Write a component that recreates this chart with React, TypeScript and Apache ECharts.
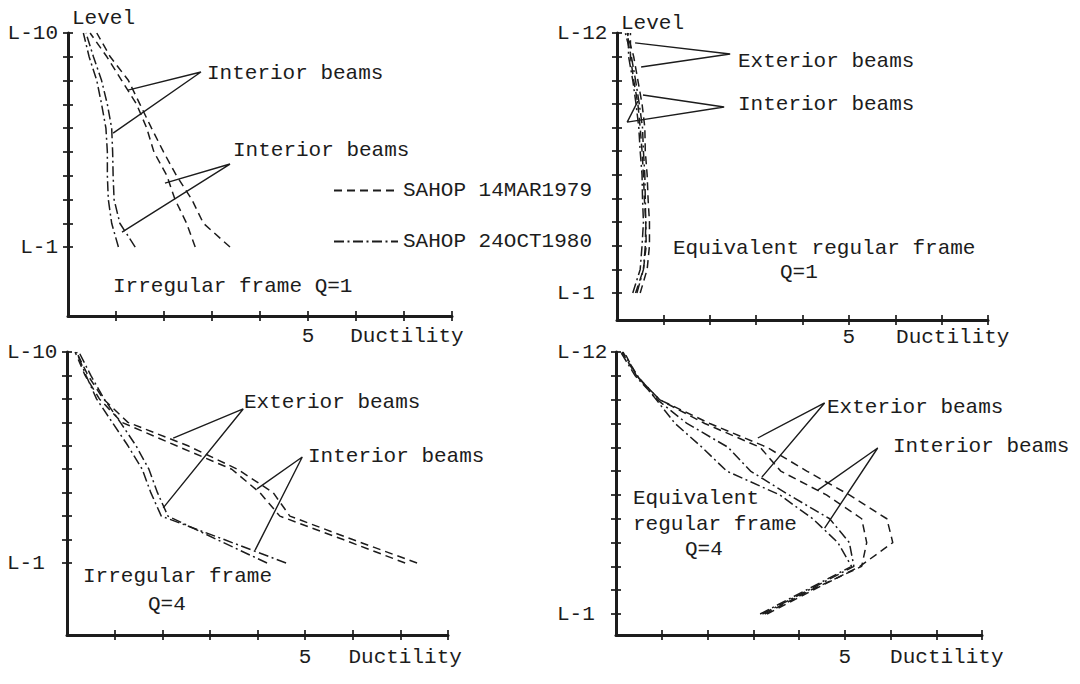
import React, { useEffect, useRef } from "react";
import * as echarts from "echarts";

const FONT = '"Liberation Mono", "DejaVu Sans Mono", monospace';
const INK = "#1c1c1c";
const FS = 21;

// ---------- axes ----------
const LEVELS_10 = [1, 2, 3, 4, 5, 6, 7, 8, 9, 10];
const LEVELS_12 = [1, 2, 3, 4, 5, 6, 7, 8, 9, 10, 11, 12];
const X_TICKS = [1, 2, 3, 4, 5, 6, 7, 8];
const Y_LABELS_10 = [1, 10];
const Y_LABELS_12 = [1, 12];

const NAME_1979 = "SAHOP 14MAR1979";
const NAME_1980 = "SAHOP 24OCT1980";

// ---------- panel 1: Irregular frame Q=1 (ductility at L-1 ... L-10) ----------
const p1Dash1979A = [2.65, 2.47, 2.23, 2.06, 1.79, 1.64, 1.43, 1.12, 0.81, 0.46];
const p1Dash1979B = [3.375, 2.82, 2.58, 2.26, 1.99, 1.74, 1.5, 1.26, 0.88, 0.6];
const p1DashDot1980A = [1.05, 0.91, 0.84, 0.82, 0.82, 0.79, 0.7, 0.6, 0.44, 0.32];
const p1DashDot1980B = [1.4, 1.08, 0.96, 0.94, 0.93, 0.91, 0.82, 0.7, 0.53, 0.375];
const p1LeaderA = [[1.25, 7.6], [2.77, 8.36], [0.94, 5.79]];
const p1LeaderB = [[2.02, 3.69], [3.375, 4.49], [1.125, 1.63]];

// ---------- panel 2: Equivalent regular frame Q=1 (L-1 ... L-12) ----------
const p2Dash1979Ext = [0.5, 0.65, 0.7, 0.7, 0.67, 0.65, 0.61, 0.6, 0.54, 0.45, 0.36, 0.22];
const p2DashDot1980Ext = [0.43, 0.57, 0.61, 0.62, 0.61, 0.6, 0.57, 0.55, 0.48, 0.4, 0.31, 0.18];
const p2Dash1979Int = [0.4, 0.57, 0.63, 0.62, 0.59, 0.57, 0.54, 0.5, 0.45, 0.36, 0.29, 0.29];
const p2DashDot1980Int = [0.34, 0.5, 0.54, 0.57, 0.55, 0.54, 0.5, 0.47, 0.41, 0.34, 0.25, 0.24];
const p2LeaderExt = [[0.39, 11.58], [2.44, 11.11], [0.52, 10.56]];
const p2LeaderInt = [[0.56, 9.38], [2.31, 8.87], [0.22, 8.23], [0.45, 9.12]];

// ---------- panel 3: Irregular frame Q=4 (L-1 ... L-10) ----------
const p3Dash1979A = [7.35, 6.0, 4.68, 4.33, 3.58, 2.54, 1.28, 0.76, 0.44, 0.2];
const p3Dash1979B = [7.1, 5.8, 4.47, 4.05, 3.46, 2.3, 1.15, 0.68, 0.38, 0.17];
const p3DashDot1980A = [4.6, 3.3, 1.98, 1.76, 1.58, 1.28, 0.95, 0.62, 0.4, 0.2];
const p3DashDot1980B = [4.2, 3.15, 2.12, 1.9, 1.72, 1.45, 1.12, 0.78, 0.5, 0.25];
const p3LeaderExt = [[2.23, 6.33], [3.7, 7.57], [2.02, 3.35]];
const p3LeaderInt = [[3.99, 4.16], [4.94, 5.52], [3.95, 1.55]];

// ---------- panel 4: Equivalent regular frame Q=4 (L-1 ... L-12) ----------
const p4Dash1979Ext = [3.3, 4.3, 5.33, 6.05, 5.92, 5.1, 4.17, 3.3, 2.05, 0.95, 0.45, 0.13];
const p4Dash1979Int = [3.25, 4.25, 5.37, 5.48, 5.37, 4.6, 3.6, 3.15, 1.94, 0.95, 0.45, 0.18];
const p4DashDot1980Ext = [3.2, 4.2, 5.2, 5.1, 4.67, 3.78, 2.94, 2.45, 1.55, 0.9, 0.42, 0.1];
const p4DashDot1980Int = [3.15, 4.15, 5.15, 4.85, 4.3, 3.58, 2.42, 1.88, 1.29, 0.88, 0.47, 0.15];
const p4LeaderExt = [[3.1, 8.39], [4.56, 9.86], [3.19, 6.75]];
const p4LeaderInt = [[4.41, 6.2], [5.72, 7.97], [4.56, 4.61]];

// ---------- layout (pixels) ----------
const PANELS = [
  { left: 68, top: 33, width: 384, height: 283, yMin: -1.9, yMax: 10, yLabels: Y_LABELS_10, yTicks: LEVELS_10, ductAt: 7.06, xMargin: 10, yMargin: 10, yAlign: "right", levelName: "Level", nameGap: 15 },
  { left: 617, top: 33, width: 371, height: 287, yMin: -0.14, yMax: 12, yLabels: Y_LABELS_12, yTicks: LEVELS_12, ductAt: 7.24, xMargin: 7, yMargin: 60, yAlign: "left", levelName: "Level", nameGap: 10 },
  { left: 67, top: 352, width: 381, height: 283, yMin: -2.07, yMax: 10, yLabels: Y_LABELS_10, yTicks: LEVELS_10, ductAt: 7.1, xMargin: 12, yMargin: 60, yAlign: "left", levelName: "", nameGap: 10 },
  { left: 616, top: 352, width: 366, height: 283, yMin: 0.12, yMax: 12, yLabels: Y_LABELS_12, yTicks: LEVELS_12, ductAt: 7.23, xMargin: 12, yMargin: 59, yAlign: "left", levelName: "", nameGap: 10 },
];

const TEXTS: [string, number, number][] = [
  ["Interior beams", 207, 73],
  ["Interior beams", 233, 150],
  ["Irregular frame Q=1", 113, 286],
  ["Exterior beams", 738, 61],
  ["Interior beams", 738, 104],
  ["Equivalent regular frame", 673, 248],
  ["Q=1", 780, 272],
  ["Exterior beams", 244, 402],
  ["Interior beams", 308, 456],
  ["Irregular frame", 83, 576],
  ["Q=4", 148, 604],
  ["Exterior beams", 827, 407],
  ["Interior beams", 893, 446],
  ["Equivalent", 633, 498],
  ["regular frame", 633, 524],
  ["Q=4", 685, 549],
];

const DASH_1979 = [8, 5];
const DASH_1980 = [10, 3.5, 2, 3.5];

function curve(name: string, dash: number[], panel: number, levels: number[], ducts: number[]) {
  return {
    type: "line",
    name,
    xAxisIndex: panel * 2,
    yAxisIndex: panel * 2,
    data: levels.map((l, k) => [ducts[k], l]),
    symbol: "none",
    silent: true,
    z: 3,
    lineStyle: { color: INK, width: 1.5, type: dash },
    emphasis: { disabled: true },
  };
}

function leader(panel: number, pts: number[][]) {
  return {
    type: "line",
    name: "leader",
    xAxisIndex: panel * 2,
    yAxisIndex: panel * 2,
    data: pts,
    symbol: "none",
    silent: true,
    z: 4,
    lineStyle: { color: INK, width: 1.4, type: "solid" },
    emphasis: { disabled: true },
  };
}

function buildOption() {
  const tickStyle = { color: INK, width: 1.7 };
  const grid: any[] = [];
  const xAxis: any[] = [];
  const yAxis: any[] = [];
  PANELS.forEach((p, i) => {
    grid.push({ left: p.left, top: p.top, width: p.width, height: p.height });
    xAxis.push({
      type: "value", gridIndex: i, min: 0, max: 8, position: "bottom",
      axisLine: { show: true, onZero: false, lineStyle: { color: INK, width: 3 } },
      axisTick: { show: true, inside: false, length: 5, customValues: X_TICKS, lineStyle: tickStyle },
      axisLabel: {
        show: true, customValues: [5, p.ductAt], margin: p.xMargin, color: INK, fontFamily: FONT, fontSize: FS,
        formatter: (v: number) => (v === 5 ? "5" : "Ductility"),
      },
      splitLine: { show: false },
    });
    xAxis.push({
      type: "value", gridIndex: i, min: 0, max: 8, position: "bottom", offset: 0,
      axisLine: { show: false, onZero: false },
      axisTick: { show: true, inside: true, length: 5, customValues: X_TICKS, lineStyle: tickStyle },
      axisLabel: { show: false },
      splitLine: { show: false },
    });
    yAxis.push({
      type: "value", gridIndex: i, min: p.yMin, max: p.yMax, position: "left",
      name: p.levelName, nameLocation: "end", nameGap: p.nameGap,
      nameTextStyle: { align: "left", verticalAlign: "middle", padding: [0, 0, 0, 4], color: INK, fontFamily: FONT, fontSize: FS },
      axisLine: { show: true, onZero: false, lineStyle: { color: INK, width: 3 } },
      axisTick: { show: true, inside: false, length: 5, customValues: p.yTicks, lineStyle: tickStyle },
      axisLabel: {
        show: true, customValues: p.yLabels, margin: p.yMargin, align: p.yAlign, color: INK, fontFamily: FONT, fontSize: FS,
        formatter: (v: number) => "L-" + v,
      },
      splitLine: { show: false },
    });
    yAxis.push({
      type: "value", gridIndex: i, min: p.yMin, max: p.yMax, position: "left", offset: 0,
      axisLine: { show: false, onZero: false },
      axisTick: { show: true, inside: true, length: 5, customValues: p.yTicks, lineStyle: tickStyle },
      axisLabel: { show: false },
      splitLine: { show: false },
    });
  });

  const series: any[] = [
    curve(NAME_1979, DASH_1979, 0, LEVELS_10, p1Dash1979A),
    curve(NAME_1979, DASH_1979, 0, LEVELS_10, p1Dash1979B),
    curve(NAME_1980, DASH_1980, 0, LEVELS_10, p1DashDot1980A),
    curve(NAME_1980, DASH_1980, 0, LEVELS_10, p1DashDot1980B),
    leader(0, p1LeaderA),
    leader(0, p1LeaderB),

    curve(NAME_1979, DASH_1979, 1, LEVELS_12, p2Dash1979Ext),
    curve(NAME_1980, DASH_1980, 1, LEVELS_12, p2DashDot1980Ext),
    curve(NAME_1979, DASH_1979, 1, LEVELS_12, p2Dash1979Int),
    curve(NAME_1980, DASH_1980, 1, LEVELS_12, p2DashDot1980Int),
    leader(1, p2LeaderExt),
    leader(1, p2LeaderInt),

    curve(NAME_1979, DASH_1979, 2, LEVELS_10, p3Dash1979A),
    curve(NAME_1979, DASH_1979, 2, LEVELS_10, p3Dash1979B),
    curve(NAME_1980, DASH_1980, 2, LEVELS_10, p3DashDot1980A),
    curve(NAME_1980, DASH_1980, 2, LEVELS_10, p3DashDot1980B),
    leader(2, p3LeaderExt),
    leader(2, p3LeaderInt),

    curve(NAME_1979, DASH_1979, 3, LEVELS_12, p4Dash1979Ext),
    curve(NAME_1979, DASH_1979, 3, LEVELS_12, p4Dash1979Int),
    curve(NAME_1980, DASH_1980, 3, LEVELS_12, p4DashDot1980Ext),
    curve(NAME_1980, DASH_1980, 3, LEVELS_12, p4DashDot1980Int),
    leader(3, p4LeaderExt),
    leader(3, p4LeaderInt),
  ];

  const graphic = TEXTS.map(([text, x, y]) => ({
    type: "text",
    x,
    y,
    silent: true,
    style: {
      text,
      fill: INK,
      font: `${FS}px ${FONT}`,
      align: "left",
      verticalAlign: "middle",
      textAlign: "left",
      textVerticalAlign: "middle",
    },
  }));

  return {
    animation: false,
    backgroundColor: "#ffffff",
    grid,
    xAxis,
    yAxis,
    series,
    graphic,
    legend: {
      data: [NAME_1979, NAME_1980],
      orient: "vertical",
      left: 333,
      top: 180,
      padding: 0,
      itemWidth: 64,
      itemHeight: 14,
      itemGap: 30,
      selectedMode: false,
      itemStyle: { opacity: 0, color: "transparent", borderWidth: 0 },
      textStyle: { color: INK, fontFamily: FONT, fontSize: FS },
    },
  };
}

export default function App() {
  const ref = useRef<HTMLDivElement>(null);
  useEffect(() => {
    document.body.style.margin = "0";
    if (!ref.current) return;
    const chart = echarts.init(ref.current, undefined, { renderer: "svg" });
    chart.setOption(buildOption() as any);
    return () => chart.dispose();
  }, []);
  return (
    <div
      ref={ref}
      style={{ position: "absolute", left: 0, top: 0, width: 1080, height: 684, background: "#fff" }}
    />
  );
}
